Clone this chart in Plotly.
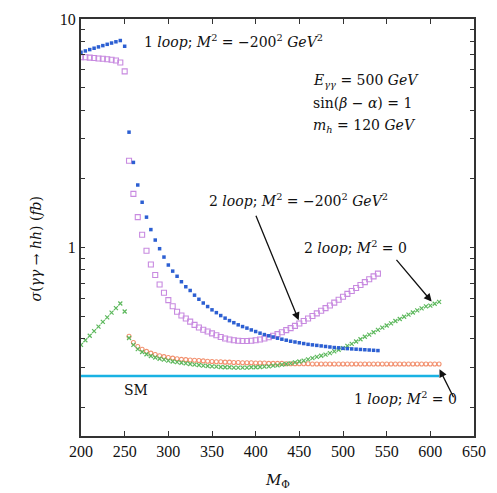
import numpy as np
import plotly.graph_objects as go

# ---------------- data ----------------
m_blue = list(range(200, 545, 5))
sig_blue = [7.15, 7.25, 7.35, 7.45, 7.55, 7.65, 7.75, 7.85, 7.95, 8.05,
            7.6, 3.2, 2.36, 1.88, 1.58, 1.36, 1.2, 1.08, 0.99, 0.91,
            0.84, 0.79, 0.75, 0.71, 0.675, 0.65, 0.62, 0.595, 0.573, 0.553,
            0.535, 0.52, 0.505, 0.492, 0.48, 0.47, 0.46, 0.452, 0.445, 0.437,
            0.43, 0.423, 0.417, 0.412, 0.407, 0.402, 0.398, 0.394, 0.39, 0.387,
            0.384, 0.381, 0.378, 0.376, 0.374, 0.372, 0.37, 0.368, 0.366, 0.365,
            0.363, 0.362, 0.361, 0.36, 0.359, 0.358, 0.357, 0.356, 0.355]

m_purple = list(range(200, 545, 5))
sig_purple = [6.8, 6.8, 6.78, 6.75, 6.72, 6.7, 6.67, 6.63, 6.58, 6.45,
              5.9, 2.4, 1.72, 1.36, 1.14, 0.97, 0.845, 0.76, 0.69, 0.635,
              0.59, 0.555, 0.525, 0.505, 0.49, 0.475, 0.46, 0.448, 0.438, 0.43,
              0.422, 0.414, 0.407, 0.401, 0.397, 0.394, 0.392, 0.391, 0.391, 0.392,
              0.394, 0.397, 0.401, 0.406, 0.412, 0.419, 0.427, 0.436, 0.445, 0.455,
              0.466, 0.478, 0.49, 0.503, 0.516, 0.53, 0.544, 0.559, 0.575, 0.592,
              0.61, 0.628, 0.647, 0.667, 0.687, 0.707, 0.728, 0.749, 0.77]

m_green = list(range(200, 615, 5))
sig_green = [0.376, 0.394, 0.412, 0.432, 0.452, 0.474, 0.496, 0.52, 0.544, 0.57,
             0.526, 0.403, 0.376, 0.36, 0.35, 0.342, 0.336, 0.331, 0.327, 0.324,
             0.321, 0.318, 0.316, 0.314, 0.312, 0.31, 0.308, 0.307, 0.305, 0.304,
             0.303, 0.302, 0.301, 0.3, 0.3, 0.299, 0.299, 0.299, 0.299, 0.3,
             0.3, 0.301, 0.302, 0.303, 0.305, 0.306, 0.308, 0.31, 0.312, 0.315,
             0.318, 0.321, 0.325, 0.329, 0.333, 0.337, 0.341, 0.346, 0.352, 0.358,
             0.364, 0.372, 0.38, 0.389, 0.398, 0.408, 0.417, 0.427, 0.437, 0.447,
             0.457, 0.467, 0.478, 0.488, 0.499, 0.51, 0.521, 0.532, 0.543, 0.554,
             0.558, 0.569, 0.58]

m_orange = list(range(255, 615, 5))
sig_orange = [0.41, 0.385, 0.37, 0.36, 0.352, 0.346, 0.341, 0.337, 0.334, 0.331,
              0.329, 0.327, 0.325, 0.324, 0.323, 0.322, 0.321, 0.32, 0.319, 0.318,
              0.317, 0.317, 0.316, 0.316, 0.315, 0.315, 0.314, 0.314, 0.314, 0.313,
              0.313, 0.313, 0.312, 0.312, 0.312, 0.312, 0.311, 0.311, 0.311, 0.311,
              0.311, 0.311, 0.31, 0.31, 0.31, 0.31, 0.31, 0.31, 0.31, 0.31,
              0.31, 0.31, 0.31, 0.31, 0.31, 0.31, 0.31, 0.31, 0.31, 0.31,
              0.31, 0.31, 0.31, 0.31, 0.31, 0.31, 0.31, 0.31, 0.31, 0.31,
              0.31, 0.31]

m_sm = [200, 610]
sig_sm = [0.275, 0.275]

x_ticks = [200, 250, 300, 350, 400, 450, 500, 550, 600, 650]
y_tickvals = [0.2, 0.3, 0.4, 0.5, 0.6, 0.7, 0.8, 0.9, 1, 2, 3, 4, 5, 6, 7, 8, 9, 10]
y_ticktext = ["" if v not in (1, 10) else str(v) for v in y_tickvals]

# ---------------- layout geometry ----------------
W, H = 497, 493
L, R, T, B = 81, 17, 11, 57
X0, X1 = 200, 650
Y0, Y1 = np.log10(0.1502), 1.0
pw, ph = W - L - R, H - T - B


def xd(px):
    return X0 + (px - L) * (X1 - X0) / pw


def yd(py):
    return Y1 - (py - T) * (Y1 - Y0) / ph


FONT = "DejaVu Serif"
TFONT = "Liberation Serif"
INK = "#111"
fig = go.Figure()

fig.add_trace(go.Scatter(x=m_sm, y=sig_sm, mode="lines",
                         line=dict(color="#19B2E3", width=2.5), showlegend=False))
fig.add_trace(go.Scatter(x=m_orange, y=sig_orange, mode="markers",
                         marker=dict(symbol="circle-open", size=4, color="#F2906E",
                                     line=dict(width=1.1)), showlegend=False))
fig.add_trace(go.Scatter(x=m_green, y=sig_green, mode="markers",
                         marker=dict(symbol="x-thin-open", size=4, color="#5CB85C",
                                     line=dict(width=1.2, color="#5CB85C")), showlegend=False))
fig.add_trace(go.Scatter(x=m_purple, y=sig_purple, mode="markers",
                         marker=dict(symbol="square-open", size=5, color="#C88AE0",
                                     line=dict(width=1.1)), showlegend=False))
fig.add_trace(go.Scatter(x=m_blue, y=sig_blue, mode="markers",
                         marker=dict(symbol="square", size=3.5, color="#2C5FD2"),
                         showlegend=False))

tf = dict(family=TFONT, size=16, color=INK)

ann = []


def txt(px, py, text, size=14, xanchor="center"):
    ann.append(dict(x=xd(px), y=yd(py), xref="x", yref="y", text=text,
                    showarrow=False, xanchor=xanchor, yanchor="middle",
                    font=dict(family=FONT, size=size, color=INK)))


def arrow(tx, ty, hx, hy):
    ann.append(dict(x=xd(hx), y=yd(hy), ax=xd(tx), ay=yd(ty), xref="x", yref="y",
                    axref="x", ayref="y", text="", showarrow=True, arrowhead=2,
                    arrowsize=1.2, arrowwidth=1.3, arrowcolor=INK))


txt(236, 33, "1 <i>loop</i>; <i>M</i><sup>2</sup> = −200<sup>2</sup> <i>GeV</i><sup>2</sup>")
txt(315, 74, "<i>E</i><sub><i>γγ</i></sub> = 500 <i>GeV</i>", xanchor="left")
txt(315, 97, "sin(<i>β</i> − <i>α</i>) = 1", xanchor="left")
txt(315, 120, "<i>m</i><sub><i>h</i></sub> = 120 <i>GeV</i>", xanchor="left")
txt(302, 195, "2 <i>loop</i>; <i>M</i><sup>2</sup> = −200<sup>2</sup> <i>GeV</i><sup>2</sup>")
txt(360, 243, "2 <i>loop</i>; <i>M</i><sup>2</sup> = 0")
txt(410, 397, "1 <i>loop</i>; <i>M</i><sup>2</sup> = 0")
txt(137, 389, "SM")
arrow(258, 210, 302, 318)
arrow(400, 255, 437, 299)
arrow(460, 398, 445, 368)

ann.append(dict(x=(25 - L) / pw, y=(H - B - 245) / ph, xref="paper", yref="paper",
                text="<i>σ</i>(<i>γγ</i> → <i>hh</i>) (<i>fb</i>)", textangle=-90,
                showarrow=False, font=dict(family=FONT, size=14, color=INK)))
ann.append(dict(x=(280 - L) / pw, y=-(481 - (H - B)) / ph, xref="paper", yref="paper",
                text="<i>M</i><sub>Φ</sub>", showarrow=False, yanchor="middle",
                font=dict(family=FONT, size=15, color=INK)))

fig.update_layout(
    width=W, height=H,
    margin=dict(l=L, r=R, t=T, b=B),
    paper_bgcolor="white", plot_bgcolor="white",
    annotations=ann,
    xaxis=dict(range=[X0, X1], tickvals=x_ticks, ticks="inside", ticklen=5,
               tickwidth=1.3, tickcolor="#333", showline=True, linecolor="#333",
               linewidth=2, mirror="ticks", showgrid=False, zeroline=False,
               tickfont=tf),
    yaxis=dict(type="log", range=[Y0, Y1], tickvals=y_tickvals, ticktext=y_ticktext,
               ticks="inside", ticklen=4, tickwidth=1.3, tickcolor="#333",
               showline=True, linecolor="#333", linewidth=2, mirror="ticks",
               showgrid=False, zeroline=False, tickfont=tf),
)

fig.write_html("out.html")
